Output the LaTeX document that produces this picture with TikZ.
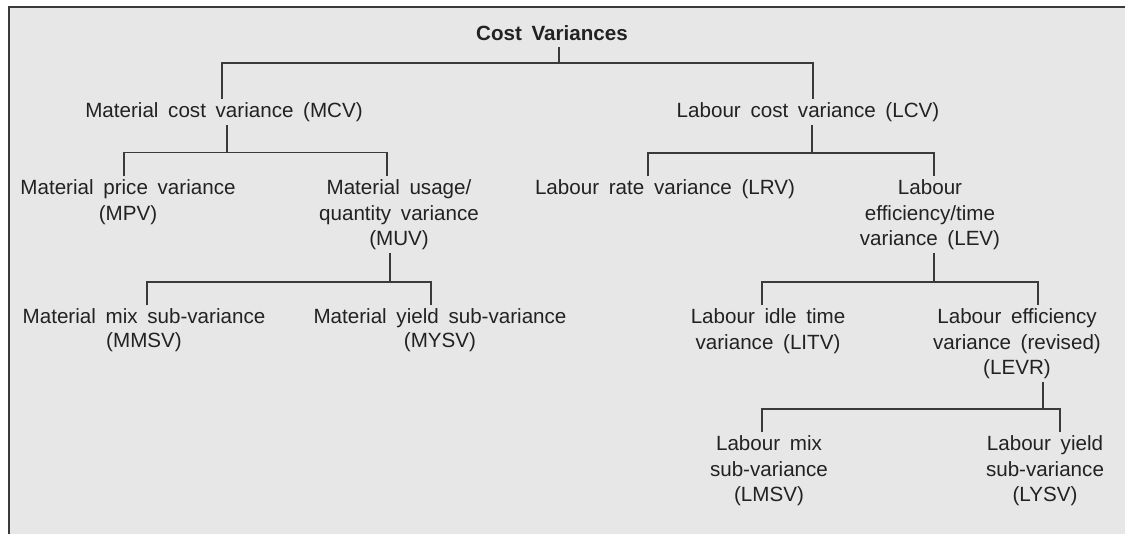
\documentclass[tikz,border=0pt]{standalone}
\usepackage{fontspec}
\setmainfont{Liberation Sans}

\definecolor{panel}{HTML}{E6E7E6}
\definecolor{ink}{HTML}{222222}
\definecolor{rule}{HTML}{3A3A3A}

% label fonts and widened inter-word space
\newcommand\lblfont{\fontsize{10.3}{12.75}\selectfont}
\newcommand\tightfont{\fontsize{10.3}{11.8}\selectfont}
\newcommand\titlefont{\fontsize{10.3}{12.75}\selectfont\bfseries}
\newcommand\widesp{\spaceskip 0.47em\relax}

\begin{document}
\begin{tikzpicture}[x=0.5pt,y=-0.5pt,
  lbl/.style={anchor=north, align=center, inner xsep=0pt, inner ysep=1.5pt,
    text=ink, font=\lblfont, execute at begin node=\widesp},
  tight/.style={font=\tightfont},
  title/.style={lbl, inner ysep=3pt, font=\titlefont},
  link/.style={draw=rule, line width=0.6pt, line join=miter},
  frame/.style={draw=rule, line width=0.7pt}]

% page and panel
\useasboundingbox (0,0) rectangle (1125,534);
\fill[panel] (9,7) rectangle (1125,534);
\draw[frame] (9,534) -- (9,7) -- (1125,7);

% variance nodes
\node[title] (root) at (552,19.4) {Cost Variances};

\node[lbl] (mcv) at (224,99.4) {Material cost variance (MCV)};
\node[lbl] (lcv) at (808,99.4) {Labour cost variance (LCV)};

\node[lbl] (mpv) at (128,176.4) {Material price variance\\(MPV)};
\node[lbl] (muv) at (399,176.4) {Material usage/\\quantity variance\\(MUV)};
\node[lbl] (lrv) at (665,176.4) {Labour rate variance (LRV)};
\node[lbl] (lev) at (930,176.4) {Labour\\efficiency/time\\variance (LEV)};

\node[lbl,tight] (mmsv) at (144,305.4) {Material mix sub-variance\\(MMSV)};
\node[lbl,tight] (mysv) at (440,305.4) {Material yield sub-variance\\(MYSV)};
\node[lbl] (litv) at (768,305.4) {Labour idle time\\variance (LITV)};
\node[lbl] (levr) at (1017,305.4) {Labour efficiency\\variance (revised)\\(LEVR)};

\node[lbl] (lmsv) at (769,432.4) {Labour mix\\sub-variance\\(LMSV)};
\node[lbl] (lysv) at (1045,432.4) {Labour yield\\sub-variance\\(LYSV)};

% branch points
\coordinate (b0) at (559,63);   \coordinate (b0L) at (222,63);  \coordinate (b0R) at (813,63);
\coordinate (b1) at (227,152.5);\coordinate (b1L) at (124,152.5);\coordinate (b1R) at (387,152.5);
\coordinate (b2) at (812,153);  \coordinate (b2L) at (648,153); \coordinate (b2R) at (934,153);
\coordinate (b3) at (390,282);  \coordinate (b3L) at (147,282); \coordinate (b3R) at (431,282);
\coordinate (b4) at (934,282);  \coordinate (b4L) at (762,282); \coordinate (b4R) at (1038,282);
\coordinate (b5) at (1043,409); \coordinate (b5L) at (762,409); \coordinate (b5R) at (1060,409);

% connectors
\draw[link] (b0 |- root.south) -- (b0);
\draw[link] (b0L |- mcv.north) -- (b0L) -- (b0R) -- (b0R |- lcv.north);

\draw[link] (b1 |- mcv.south) -- (b1);
\draw[link] (b1L |- mpv.north) -- (b1L) -- (b1R) -- (b1R |- muv.north);

\draw[link] (b2 |- lcv.south) -- (b2);
\draw[link] (b2L |- lrv.north) -- (b2L) -- (b2R) -- (b2R |- lev.north);

\draw[link] (b3 |- muv.south) -- (b3);
\draw[link] (b3L |- mmsv.north) -- (b3L) -- (b3R) -- (b3R |- mysv.north);

\draw[link] (b4 |- lev.south) -- (b4);
\draw[link] (b4L |- litv.north) -- (b4L) -- (b4R) -- (b4R |- levr.north);

\draw[link] (b5 |- levr.south) -- (b5);
\draw[link] (b5L |- lmsv.north) -- (b5L) -- (b5R) -- (b5R |- lysv.north);
\end{tikzpicture}
\end{document}
